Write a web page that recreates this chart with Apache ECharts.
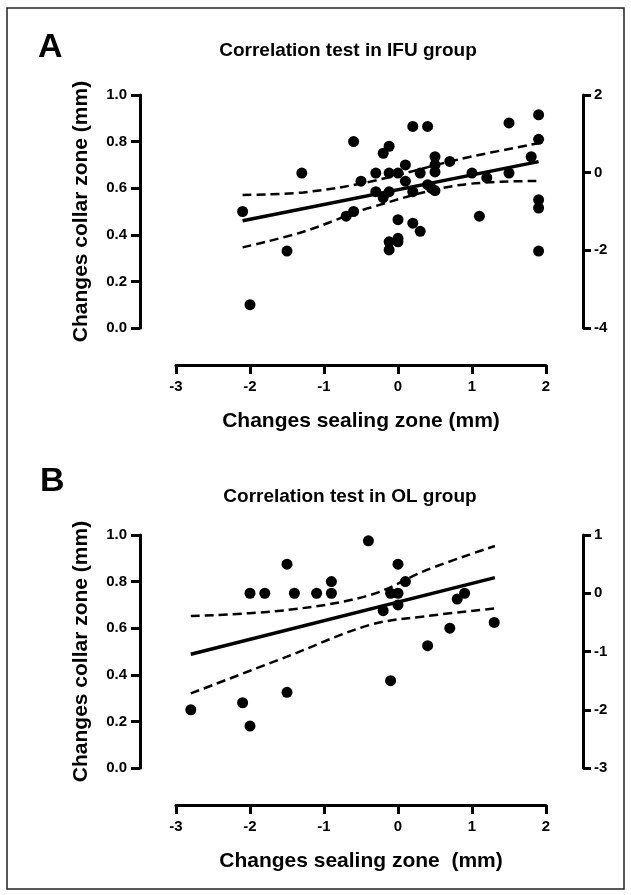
<!DOCTYPE html>
<html><head><meta charset="utf-8">
<script src="https://cdn.jsdelivr.net/npm/echarts@6/dist/echarts.min.js"></script>
<style>html,body{margin:0;padding:0;background:#fff}#c{width:631px;height:895px}</style>
</head><body><div id="c"></div>
<script>
// Panel A: IFU group (x = changes sealing zone, y = changes collar zone, left axis scale)
const ifuX = [-2.1,-2.0,-1.5,-1.3,-0.7,-0.6,-0.6,-0.5,-0.3,-0.3,-0.2,-0.2,-0.12,-0.12,-0.12,-0.12,-0.12,0.0,0.0,0.0,0.0,0.1,0.1,0.2,0.2,0.2,0.3,0.3,0.4,0.4,0.5,0.5,0.5,0.5,0.45,0.7,1.0,1.1,1.2,1.5,1.5,1.8,1.9,1.9,1.9,1.9,1.9];
const ifuY = [0.50,0.10,0.33,0.665,0.48,0.50,0.80,0.63,0.665,0.585,0.75,0.56,0.78,0.665,0.585,0.37,0.335,0.665,0.465,0.385,0.37,0.70,0.63,0.865,0.585,0.45,0.665,0.415,0.865,0.615,0.735,0.70,0.67,0.59,0.60,0.715,0.665,0.48,0.645,0.88,0.665,0.735,0.915,0.81,0.55,0.515,0.33];
const ifuFitX = [-2.1, 1.9];
const ifuFitY = [0.46, 0.714];
const ifuBandX = [-2.1, -1.28, -0.38, 0.84, 1.9];
const ifuUpper = [0.571, 0.582, 0.628, 0.725, 0.793];
const ifuLower = [0.346, 0.413, 0.516, 0.614, 0.631];

// Panel B: OL group
const olX = [-2.8,-2.1,-2.0,-2.0,-1.8,-1.5,-1.5,-1.4,-1.1,-0.9,-0.9,-0.4,-0.2,-0.1,-0.1,0.0,0.0,0.0,0.1,0.4,0.7,0.8,0.9,1.3];
const olY = [0.25,0.28,0.18,0.75,0.75,0.875,0.325,0.75,0.75,0.75,0.80,0.975,0.675,0.375,0.75,0.875,0.75,0.70,0.80,0.525,0.60,0.725,0.75,0.625];
const olFitX = [-2.8, 1.31];
const olFitY = [0.488, 0.817];
const olBandX = [-2.8, -1.5, -0.38, 0.39, 1.31];
const olUpper = [0.652, 0.678, 0.742, 0.85, 0.953];
const olLower = [0.32, 0.478, 0.614, 0.652, 0.685];

const xTicks = [-3, -2, -1, 0, 1, 2];
const leftTicks = [0.0, 0.2, 0.4, 0.6, 0.8, 1.0];
const rightTicksA = [-4, -2, 0, 2];
const rightTicksB = [-3, -2, -1, 0, 1];

const FONT = "'Liberation Sans', Arial, sans-serif";
const zip = (a, b) => a.map((v, i) => [v, b[i]]);

function xAxisCfg(gi) {
  return {
    gridIndex: gi, type: 'value', min: xTicks[0], max: xTicks[xTicks.length-1], interval: 1,
    offset: 37,
    name: 'Changes sealing zone' + (gi === 1 ? '  (mm)' : ' (mm)'),
    nameLocation: 'middle', nameGap: 46,
    nameTextStyle: {fontFamily: FONT, fontWeight: 'bold', fontSize: 21, color: '#000'},
    axisLine: {show: true, onZero: false, lineStyle: {color: '#000', width: 3}},
    axisTick: {show: true, length: 9, lineStyle: {color: '#000', width: 3}},
    axisLabel: {fontFamily: FONT, fontWeight: 'bold', fontSize: 15, color: '#000', margin: 14},
    splitLine: {show: false}
  };
}
function leftAxisCfg(gi) {
  return {
    gridIndex: gi, type: 'value', position: 'left', min: leftTicks[0], max: leftTicks[leftTicks.length-1],
    interval: 0.2, offset: 36,
    name: 'Changes collar zone (mm)', nameLocation: 'middle', nameGap: 48,
    nameTextStyle: {fontFamily: FONT, fontWeight: 'bold', fontSize: 21, color: '#000'},
    axisLine: {show: true, onZero: false, lineStyle: {color: '#000', width: 3}},
    axisTick: {show: true, length: 9, lineStyle: {color: '#000', width: 3}},
    axisLabel: {fontFamily: FONT, fontWeight: 'bold', fontSize: 15, color: '#000', margin: 13,
      formatter: v => v.toFixed(1)},
    splitLine: {show: false}
  };
}
function rightAxisCfg(gi, ticks) {
  return {
    gridIndex: gi, type: 'value', position: 'right', min: ticks[0], max: ticks[ticks.length-1],
    interval: ticks[1]-ticks[0], offset: 37,
    axisLine: {show: true, onZero: false, lineStyle: {color: '#000', width: 3}},
    axisTick: {show: true, length: 8, lineStyle: {color: '#000', width: 3}},
    axisLabel: {fontFamily: FONT, fontWeight: 'bold', fontSize: 15, color: '#000', margin: 11},
    splitLine: {show: false}
  };
}
function scatter(gi, xs, ys) {
  return {type: 'scatter', xAxisIndex: gi, yAxisIndex: gi*2, data: zip(xs, ys), symbolSize: 11,
    itemStyle: {color: '#000', opacity: 1}, silent: true, z: 3};
}
function line(gi, xs, ys, dashed) {
  return {type: 'line', xAxisIndex: gi, yAxisIndex: gi*2, data: zip(xs, ys), showSymbol: false,
    smooth: dashed ? 0.35 : false,
    lineStyle: dashed ? {color: '#000', width: 2.5, type: [9, 5]} : {color: '#000', width: 3.5},
    silent: true, z: 4};
}

const chart = echarts.init(document.getElementById('c'), null, {renderer: 'canvas'});
chart.setOption({
  animation: false,
  backgroundColor: '#fff',
  grid: [
    {left: 176, width: 370, top: 95, height: 233},
    {left: 176, width: 370, top: 535, height: 233}
  ],
  xAxis: [xAxisCfg(0), xAxisCfg(1)],
  yAxis: [leftAxisCfg(0), rightAxisCfg(0, rightTicksA), leftAxisCfg(1), rightAxisCfg(1, rightTicksB)],
  series: [
    scatter(0, ifuX, ifuY),
    line(0, ifuFitX, ifuFitY, false),
    line(0, ifuBandX, ifuUpper, true),
    line(0, ifuBandX, ifuLower, true),
    scatter(1, olX, olY),
    line(1, olFitX, olFitY, false),
    line(1, olBandX, olUpper, true),
    line(1, olBandX, olLower, true)
  ],
  graphic: [
    {type: 'rect', shape: {x: 7, y: 8, width: 617, height: 881}, style: {fill: 'none', stroke: '#222', lineWidth: 1.5}, silent: true},
    {type: 'text', left: 38, top: 31, style: {text: 'A', font: "bold 34px 'Liberation Sans', Arial, sans-serif", fill: '#000'}},
    {type: 'text', left: 40, top: 465, style: {text: 'B', font: "bold 34px 'Liberation Sans', Arial, sans-serif", fill: '#000'}},
    {type: 'text', x: 348, y: 51, style: {text: 'Correlation test in IFU group', align: 'center', verticalAlign: 'middle', font: "bold 19px 'Liberation Sans', Arial, sans-serif", fill: '#000'}},
    {type: 'text', x: 350, y: 497, style: {text: 'Correlation test in OL group', align: 'center', verticalAlign: 'middle', font: "bold 19px 'Liberation Sans', Arial, sans-serif", fill: '#000'}}
  ]
});
</script>
</body></html>
